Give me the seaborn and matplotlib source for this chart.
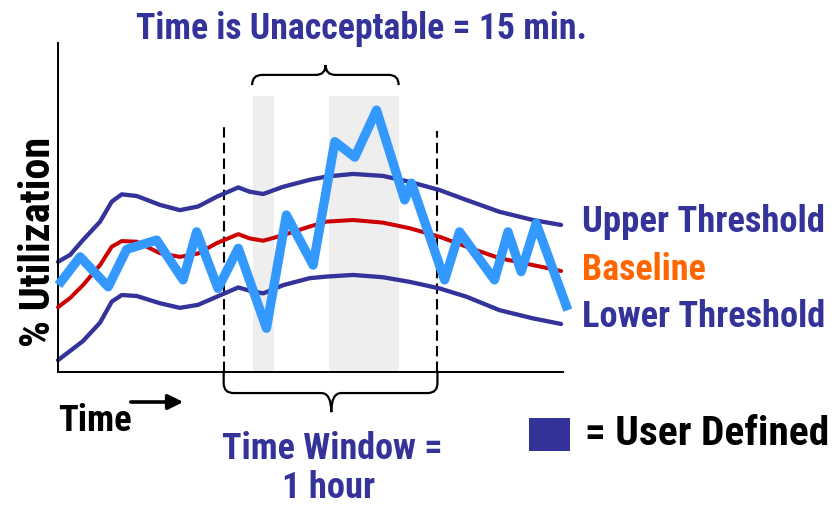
import matplotlib
matplotlib.use("Agg")
import matplotlib.pyplot as plt
import seaborn as sns
from matplotlib.path import Path
from matplotlib.patches import PathPatch, Rectangle, FancyArrowPatch
from matplotlib import font_manager

# -----------------------
# Data (minutes vs % utilization)
# -----------------------

band_minutes = [0, 3.4, 7.0, 11.8, 15.1, 17.9, 22.1, 28.6, 34.2, 39.3, 44.6, 50.6, 53.8,
                57.6, 63.2, 70.6, 75.3, 82.8, 91.2, 98.7, 107.1, 114.6, 123.9, 133.3, 141.2]
upper_threshold = [33.5, 35.6, 40.1, 45.7, 51.8, 54.0, 53.5, 50.8, 49.2, 50.3, 53.3, 56.1, 54.8,
                   54.1, 56.3, 58.4, 59.4, 60.2, 59.6, 57.8, 55.3, 52.3, 48.7, 46.2, 44.7]
baseline = [19.7, 22.5, 26.4, 32.5, 38.1, 39.8, 39.6, 36.1, 35.0, 36.0, 39.2, 41.9, 40.6,
            39.9, 41.6, 44.2, 45.7, 46.2, 45.4, 43.7, 41.1, 38.1, 34.6, 32.5, 30.7]
lower_threshold = [3.6, 6.4, 9.4, 15.0, 21.4, 23.4, 23.1, 20.9, 19.5, 20.4, 22.9, 25.7, 24.7,
                   23.9, 26.4, 28.5, 29.0, 29.5, 28.8, 27.4, 25.4, 22.9, 18.8, 16.3, 14.6]

actual_minutes = [0.1, 6.2, 14.1, 19.3, 27.7, 35.1, 38.9, 44.9, 50.6, 58.5, 64.1, 71.6,
                  77.7, 83.3, 89.4, 97.3, 99.2, 108.5, 112.7, 122.5, 126.3, 130.0, 134.2, 143.1]
actual_util = [26.4, 35.0, 25.9, 37.3, 40.1, 28.0, 42.6, 25.4, 37.6, 13.3, 47.7, 32.5,
               70.0, 65.3, 79.6, 52.3, 57.4, 28.0, 42.6, 28.0, 42.6, 30.5, 45.2, 18.8]

# periods above the upper threshold (minutes)
breach_periods = [(54.8, 60.6), (76.0, 95.6)]
window_start, window_end = 46.5, 106.5

NAVY = "#333399"
RED = "#cc0000"
BLUE = "#3399ff"
ORANGE = "#ff6600"

sns.set_style("white")

# prefer a narrow face like the original (Arial Narrow look)
names = {f.name for f in font_manager.fontManager.ttflist}
family = "Liberation Sans"
for cand in ["Liberation Sans Narrow", "Arial Narrow", "Roboto Condensed",
             "Noto Sans Condensed", "Open Sans Condensed", "DejaVu Sans Condensed"]:
    if cand in names:
        family = cand
        break
plt.rcParams["font.family"] = [family, "DejaVu Sans"]

W, H = 836, 507
fig = plt.figure(figsize=(W / 100, H / 100), dpi=100)
ax = fig.add_axes([58 / W, (H - 372) / H, (562.5 - 58) / W, 329 / H])
ax.set_xlim(0, 141.6)
ax.set_ylim(0, 100)


def px(x, y):
    return x / W, 1 - y / H


# shaded breach periods
for x0, x1 in breach_periods:
    ax.fill_between([x0, x1], 0, 83.9, color="#eeeeee", lw=0, zorder=0)

# dashed window boundaries
ax.plot([window_start, window_start], [0, 74.6], color="black", lw=1.5,
        dashes=(5, 2.5), zorder=1)
ax.plot([window_end, window_end], [0, 73.3], color="black", lw=1.5,
        dashes=(5, 2.5), zorder=1)

sns.lineplot(x=band_minutes, y=upper_threshold, ax=ax, color=NAVY, lw=3.1,
             sort=False, estimator=None, solid_capstyle="round", zorder=2)
sns.lineplot(x=band_minutes, y=lower_threshold, ax=ax, color=NAVY, lw=3.1,
             sort=False, estimator=None, solid_capstyle="round", zorder=2)
sns.lineplot(x=band_minutes, y=baseline, ax=ax, color=RED, lw=2.9,
             sort=False, estimator=None, solid_capstyle="round", zorder=3)
sns.lineplot(x=actual_minutes, y=actual_util, ax=ax, color=BLUE, lw=6.7,
             sort=False, estimator=None, solid_capstyle="butt",
             solid_joinstyle="round", zorder=4)
for l in ax.lines:
    l.set_clip_on(False)


def brace(x0, x1, xc, y_end, y_mid, y_tip, rx, ry):
    d = 1 if y_tip > y_end else -1
    verts = [(x0, y_end), (x0, y_mid - d * ry), (x0, y_mid), (x0 + rx, y_mid),
             (xc - rx, y_mid), (xc, y_mid), (xc, y_tip), (xc, y_mid), (xc + rx, y_mid),
             (x1 - rx, y_mid), (x1, y_mid), (x1, y_mid - d * ry), (x1, y_end)]
    codes = [Path.MOVETO, Path.LINETO, Path.CURVE3, Path.CURVE3,
             Path.LINETO, Path.CURVE3, Path.CURVE3, Path.CURVE3, Path.CURVE3,
             Path.LINETO, Path.CURVE3, Path.CURVE3, Path.LINETO]
    ax.add_patch(PathPatch(Path(verts, codes), fill=False, lw=1.6, color="black",
                           clip_on=False, capstyle="butt"))


brace(54.5, 95.6, 75.1, 87.2, 90.3, 93.3, 2.8, 3.0)
brace(window_start, window_end, 76.7, 0, -6.4, -12.2, 2.8, 3.0)

ax.set_xticks([])
ax.set_yticks([])
ax.set_xlabel("")
ax.set_ylabel("")
sns.despine(ax=ax)
for s in ("left", "bottom"):
    ax.spines[s].set_linewidth(1.4)
    ax.spines[s].set_color("black")

renderer = fig.canvas.get_renderer()


def label(x, y, s, span, color, size, vertical=False, **kw):
    # place text, then scale it so its extent matches the reference
    t = fig.text(*px(x, y), s, color=color, fontsize=size, va="baseline",
                 fontweight="bold", **kw)
    bb = t.get_window_extent(renderer)
    cur = bb.height if vertical else bb.width
    t.set_fontsize(min(size * 1.15, size * span / cur))
    return t


label(361, 39, "Time is Unacceptable = 15 min.", 450, NAVY, 27, ha="center")
label(50, 242, "% Utilization", 210, "black", 30, vertical=True, rotation=90,
      rotation_mode="anchor", ha="center")
label(582, 231.5, "Upper Threshold", 244, NAVY, 26, ha="left")
label(582, 280, "Baseline", 124, ORANGE, 26, ha="left")
label(582, 327, "Lower Threshold", 243, NAVY, 26, ha="left")
label(58, 431, "Time", 74, "black", 29, ha="left")
label(332, 459, "Time Window =", 221, NAVY, 23, ha="center")
label(329, 498, "1 hour", 93, NAVY, 23, ha="center")
label(585, 445, "= User Defined", 244, "black", 27, ha="left")

fig.patches.append(Rectangle(px(529, 451), 41 / W, 33 / H, transform=fig.transFigure,
                             color=NAVY, lw=0))
fig.patches.append(FancyArrowPatch(px(128, 402), px(186, 402), transform=fig.transFigure,
                                   arrowstyle="-|>,head_length=9,head_width=4.5",
                                   color="black", lw=2.6))

fig.savefig("out.png", dpi=100)
